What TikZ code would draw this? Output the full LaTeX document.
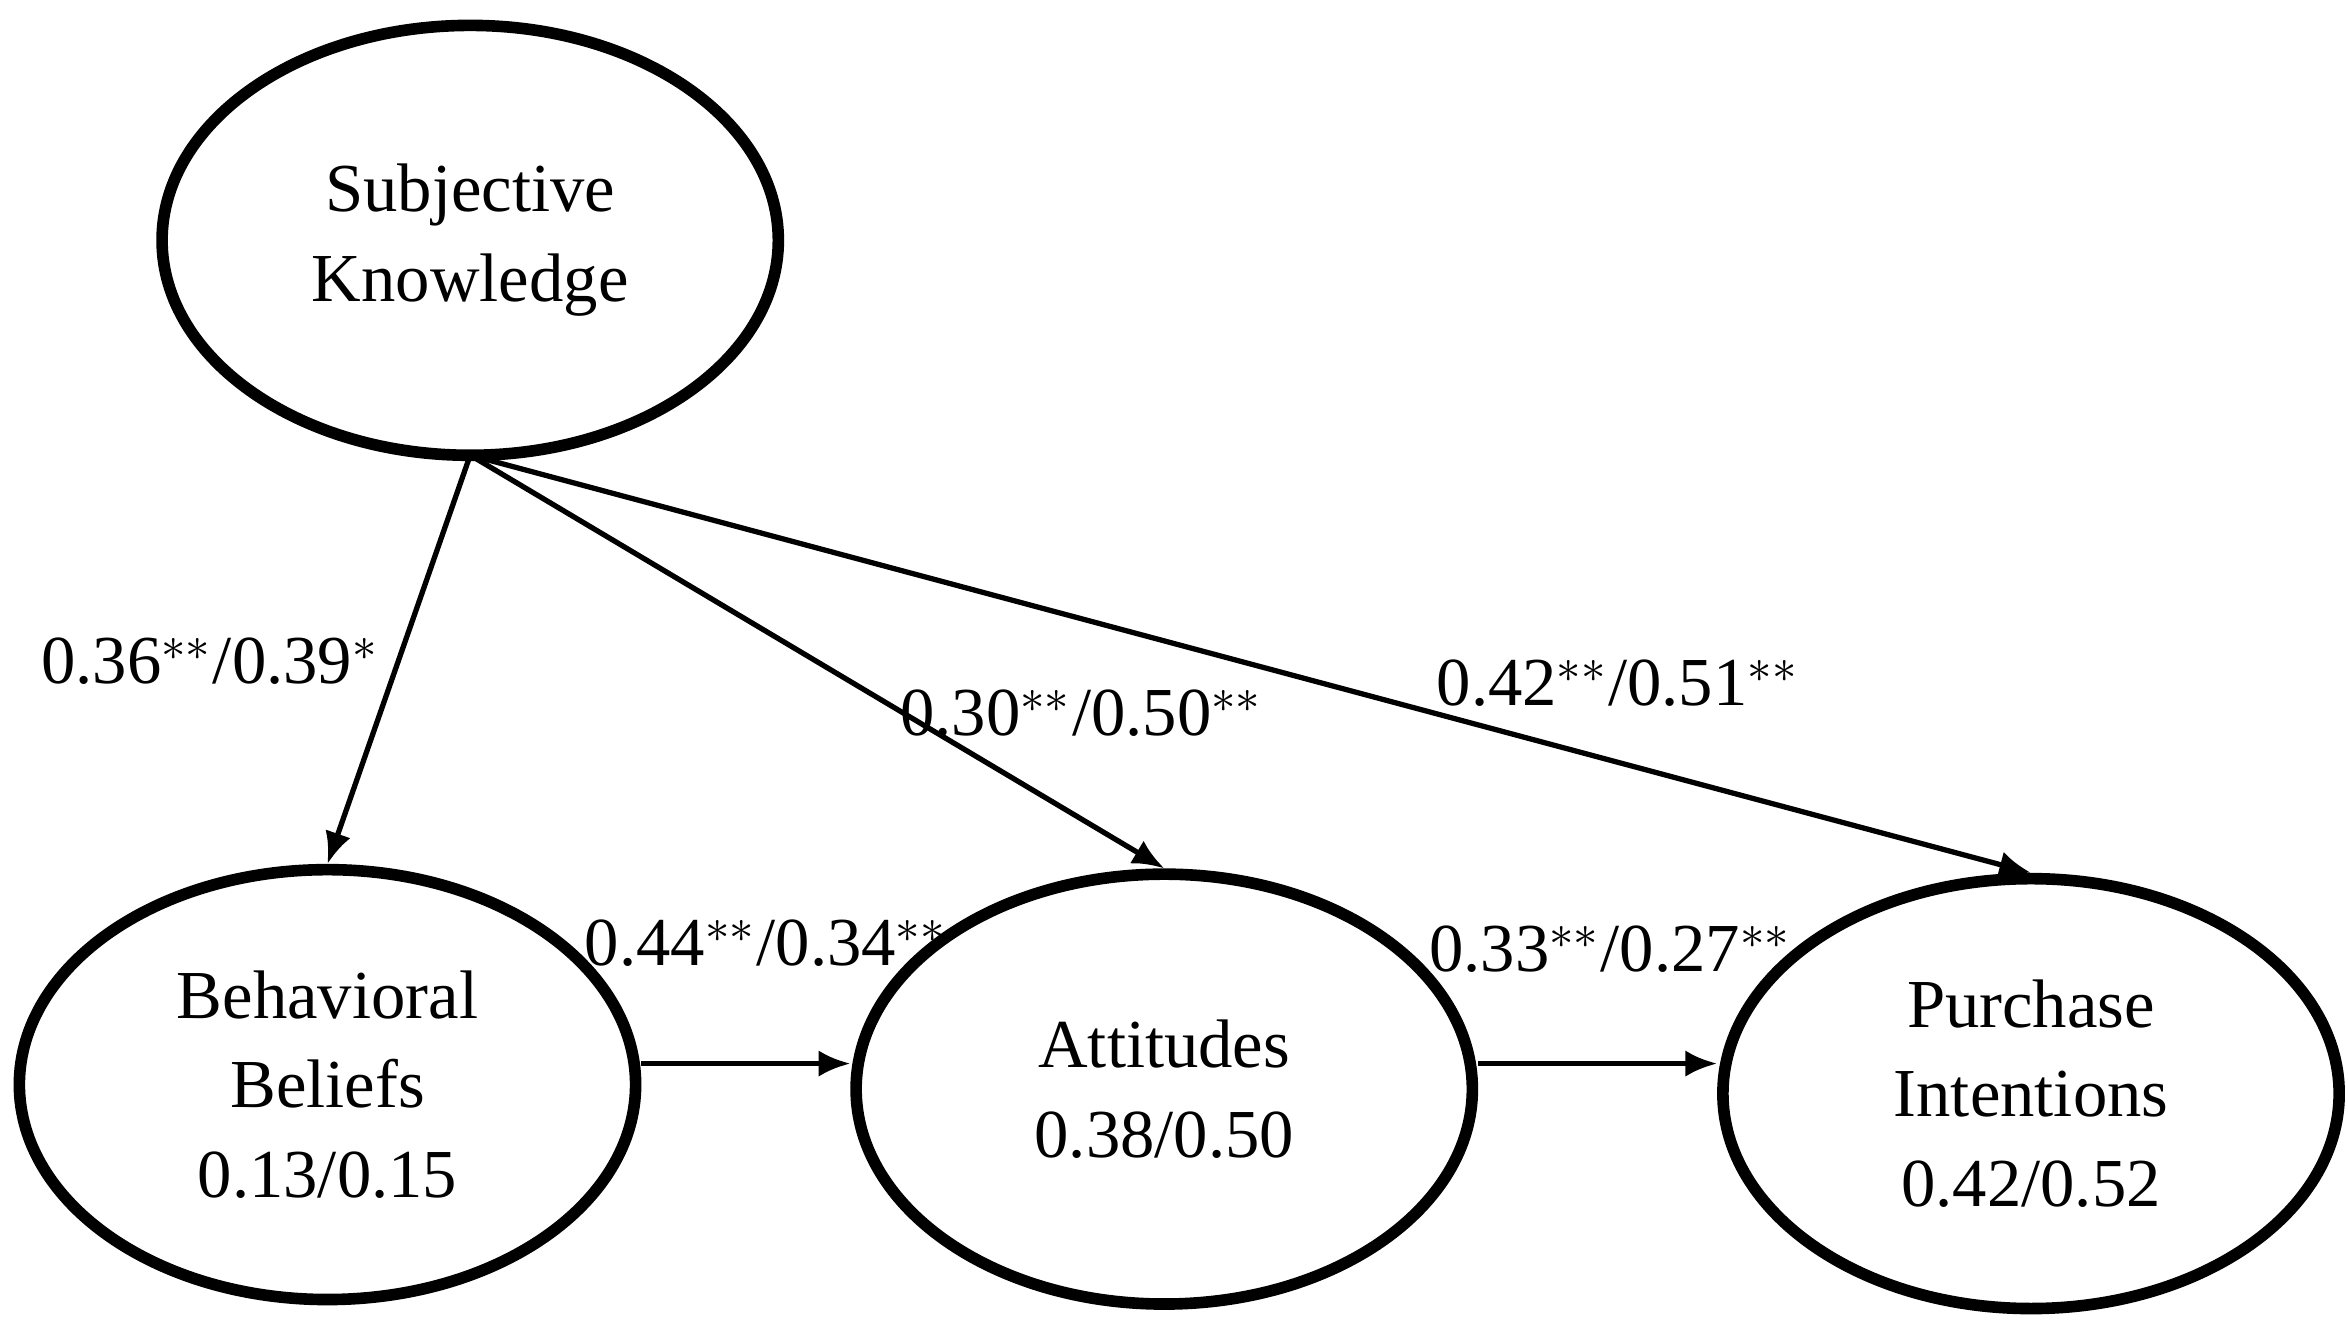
\documentclass[tikz,border=0pt]{standalone}
\usepackage{fontspec}
\setmainfont{Liberation Serif}
\usetikzlibrary{arrows.meta,shapes.geometric}
\begin{document}
\begin{tikzpicture}[x=0.01cm,y=-0.01cm,
  lat/.style={draw,line width=2.2pt,ellipse,minimum width=4.1cm,minimum height=2.86cm,align=center,font=\fontsize{13}{17}\selectfont},
  arr/.style={line width=1pt,-{Latex[length=6pt,width=5pt]}},
  lab/.style={font=\fontsize{13}{15}\selectfont}]
\useasboundingbox (0,0) rectangle (1563,892);
\node[lat] (sk) at (313,160) {Subjective\\Knowledge};
\node[lat] (bb) at (218,722) {Behavioral\\Beliefs\\0.13/0.15};
\node[lat] (at) at (775,725) {Attitudes\\0.38/0.50};
\node[lat] (pi) at (1352,728) {Purchase\\Intentions\\0.42/0.52};
\coordinate (s) at (313,303);
\draw[arr] (s) -- (bb.north);
\draw[arr] (s) -- (at.north);
\draw[arr] (s) -- (pi.north);
\draw[arr] (bb.east |- 0,708) -- (at.west |- 0,708);
\draw[arr] (at.east |- 0,708) -- (pi.west |- 0,708);
\node[lab] (l1) at (140,440) {0.36$^{**}$/0.39$^{*}$};
\node[lab] (l2) at (720,475) {0.30$^{**}$/0.50$^{**}$};
\node[lab] (l3) at (1077,455) {0.42$^{**}$/0.51$^{**}$};
\node[lab] (l4) at (510,628) {0.44$^{**}$/0.34$^{**}$};
\node[lab] (l5) at (1072,632) {0.33$^{**}$/0.27$^{**}$};
\end{tikzpicture}
\end{document}
